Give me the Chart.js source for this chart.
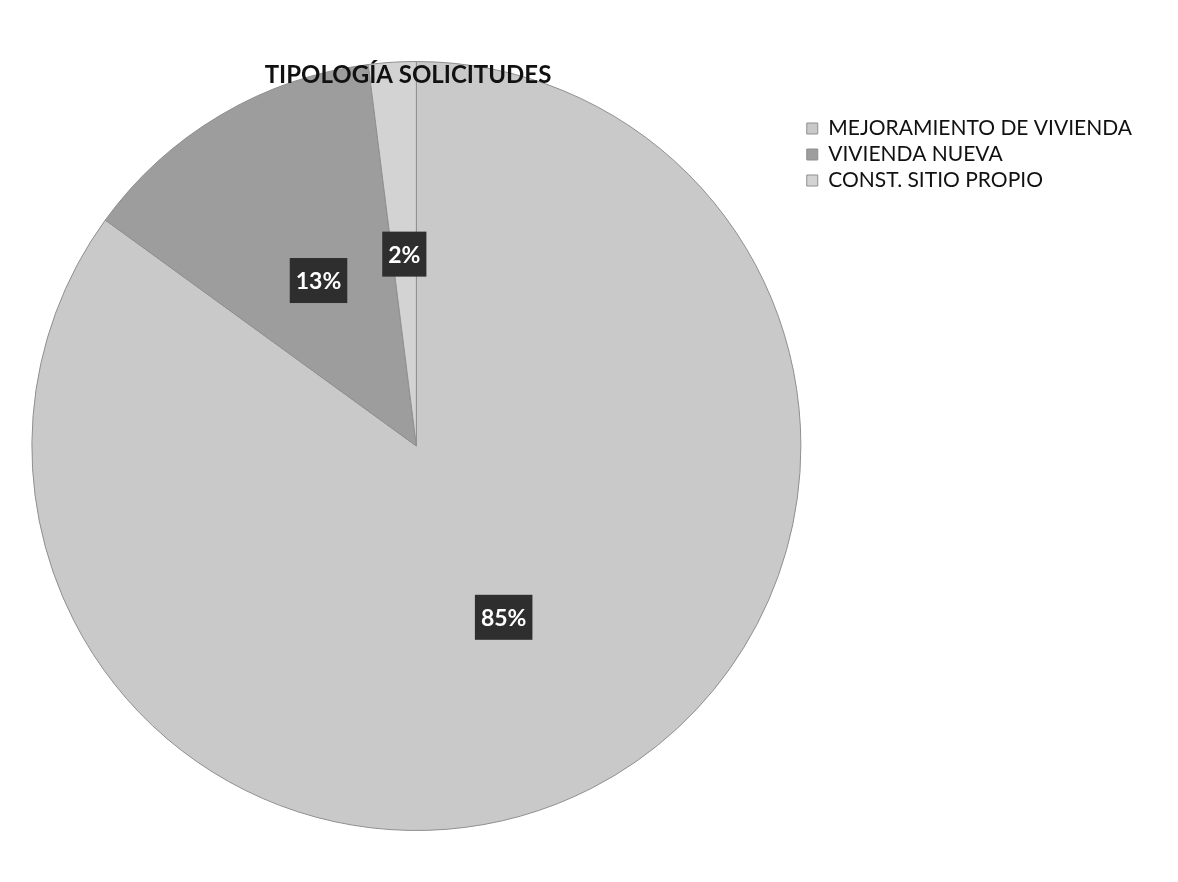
<!DOCTYPE html>
<html lang="es">
<head>
<meta charset="utf-8">
<title>Tipología solicitudes</title>
<script src="https://cdn.jsdelivr.net/npm/chart.js@4/dist/chart.umd.min.js"></script>
<style>
  html, body { margin: 0; padding: 0; background: #fff; }
  #contenedor { width: 1178px; height: 882px; }
</style>
</head>
<body>
<div id="contenedor"><canvas id="myChart"></canvas></div>
<script>
// Datos del gráfico
var categorias = ["MEJORAMIENTO DE VIVIENDA", "VIVIENDA NUEVA", "CONST. SITIO PROPIO"];
var valores = [85, 13, 2];
var colores = ["#c9c9c9", "#9d9d9d", "#d3d3d3"];
var titulo = "TIPOLOGÍA SOLICITUDES";

// Título dibujado encima de la torta (como en el original)
var pluginTitulo = {
  id: 'tituloEncima',
  afterDraw: function(chart) {
    var ctx = chart.ctx;
    ctx.save();
    ctx.font = "bold 24px Lato";
    ctx.fillStyle = "#111";
    ctx.textAlign = "center";
    ctx.textBaseline = "alphabetic";
    ctx.fillText(titulo, 408, 83);
    ctx.restore();
  }
};

// Etiquetas de porcentaje en cajas oscuras
var pluginEtiquetas = {
  id: 'etiquetasPorcentaje',
  afterDatasetsDraw: function(chart) {
    var ctx = chart.ctx;
    var meta = chart.getDatasetMeta(0);
    var total = valores.reduce(function(a, b) { return a + b; }, 0);
    ctx.save();
    ctx.font = "bold 23px Lato";
    ctx.textAlign = "center";
    ctx.textBaseline = "middle";
    meta.data.forEach(function(arco, i) {
      var pos = arco.tooltipPosition();
      var texto = Math.round(valores[i] / total * 100) + "%";
      var ancho = ctx.measureText(texto).width + 12;
      var alto = 45;
      ctx.fillStyle = "#2e2e2e";
      ctx.fillRect(pos.x - ancho / 2, pos.y - alto / 2, ancho, alto);
      ctx.fillStyle = "#fff";
      ctx.fillText(texto, pos.x, pos.y + 1);
    });
    ctx.restore();
  }
};

var ctx = document.getElementById('myChart').getContext('2d');
var myChart = new Chart(ctx, {
  type: 'pie',
  data: {
    labels: categorias,
    datasets: [{
      data: valores,
      backgroundColor: colores,
      borderColor: "#8f8f8f",
      borderWidth: 1
    }]
  },
  options: {
    responsive: true,
    maintainAspectRatio: false,
    animation: false,
    layout: {
      padding: { left: 31, top: 61, bottom: 51, right: 36 }
    },
    plugins: {
      tooltip: { enabled: false },
      legend: {
        position: 'right',
        align: 'start',
        title: {
          display: true,
          text: ' ',
          font: { size: 10, lineHeight: 1 },
          padding: { top: 42, bottom: 0 }
        },
        labels: {
          boxWidth: 11,
          boxHeight: 11,
          padding: 5,
          color: "#111",
          font: { family: "Lato", size: 21 }
        }
      }
    }
  },
  plugins: [pluginEtiquetas, pluginTitulo]
});
</script>
</body>
</html>
